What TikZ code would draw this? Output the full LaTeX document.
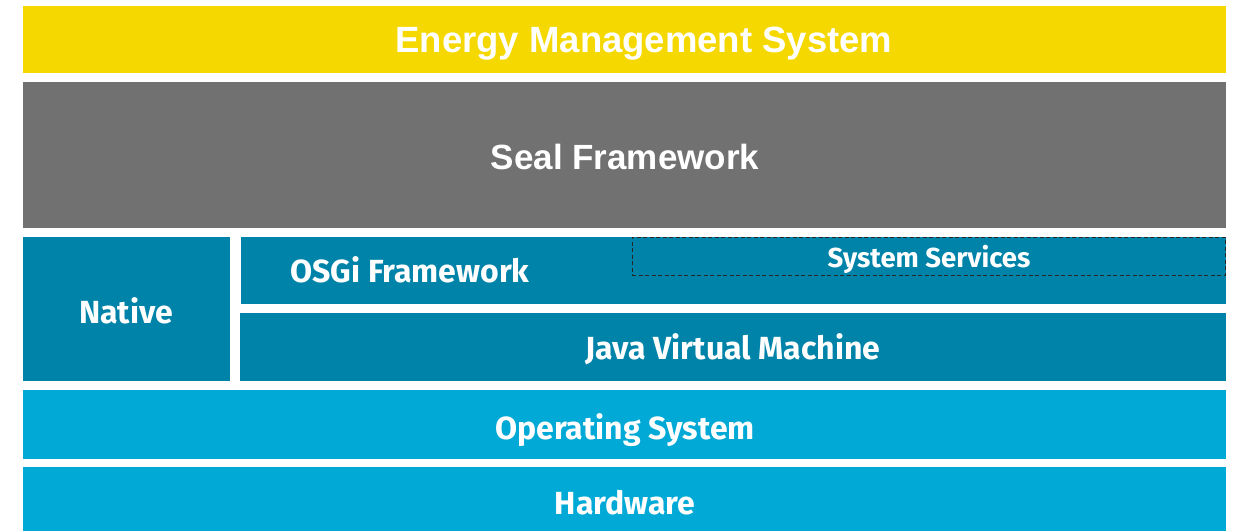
\documentclass[tikz,border=0pt]{standalone}
\usepackage{fontspec}
\setmainfont{Fira Sans}
\newfontfamily\arialfont{Liberation Sans}
\definecolor{emsyellow}{HTML}{F5D800}
\definecolor{sealgray}{HTML}{717171}
\definecolor{darkteal}{HTML}{0083A9}
\definecolor{lightblue}{HTML}{00A9D6}
\begin{document}
\begin{tikzpicture}[x=1pt,y=-1pt,
  box/.style={anchor=north west,inner sep=0pt,outer sep=0pt,draw=none},
  titletxt/.style={anchor=base,text=white,font=\arialfont\bfseries\fontsize{35}{40}\selectfont,inner sep=0pt},
  layertxt/.style={anchor=base,text=white,font=\bfseries\fontsize{32}{38}\selectfont,inner sep=0pt},
  smalltxt/.style={anchor=base,text=white,font=\bfseries\fontsize{27.5}{32}\selectfont,inner sep=0pt}]
\useasboundingbox (0,0) rectangle (1238,531);
\fill[white] (0,0) rectangle (1238,531);
\node[box,fill=emsyellow,minimum width=1203pt,minimum height=67pt] (ems) at (23,6) {};
\node[box,fill=sealgray,minimum width=1203pt,minimum height=146pt] (seal) at (23,82) {};
\node[box,fill=darkteal,minimum width=207pt,minimum height=144pt] (native) at (23,237) {};
\node[box,fill=darkteal,minimum width=985pt,minimum height=67pt] (osgi) at (241,237) {};
\node[box,draw=black!85,dash pattern=on 4pt off 2.5pt,line width=1pt,minimum width=593pt,minimum height=38pt] (svc) at (632,237) {};
\node[box,fill=darkteal,minimum width=986pt,minimum height=68pt] (jvm) at (240,313) {};
\node[box,fill=lightblue,minimum width=1203pt,minimum height=69pt] (os) at (23,390) {};
\node[box,fill=lightblue,minimum width=1203pt,minimum height=64pt] (hw) at (23,467) {};
\node[titletxt,font=\arialfont\bfseries\fontsize{36.5}{42}\selectfont] (emst) at (644,52) {Energy Management System};
\node[titletxt] (sealt) at (625,169) {Seal Framework};
\node[layertxt] (nativet) at (126,323) {Native};
\node[layertxt] (osgit) at (410,282) {OSGi Framework};
\node[smalltxt] (svct) at (929,267) {System Services};
\node[layertxt] (jvmt) at (733,359) {Java Virtual Machine};
\node[layertxt] (ost) at (625,439) {Operating System};
\node[layertxt] (hwt) at (625,514) {Hardware};
\end{tikzpicture}
\end{document}
